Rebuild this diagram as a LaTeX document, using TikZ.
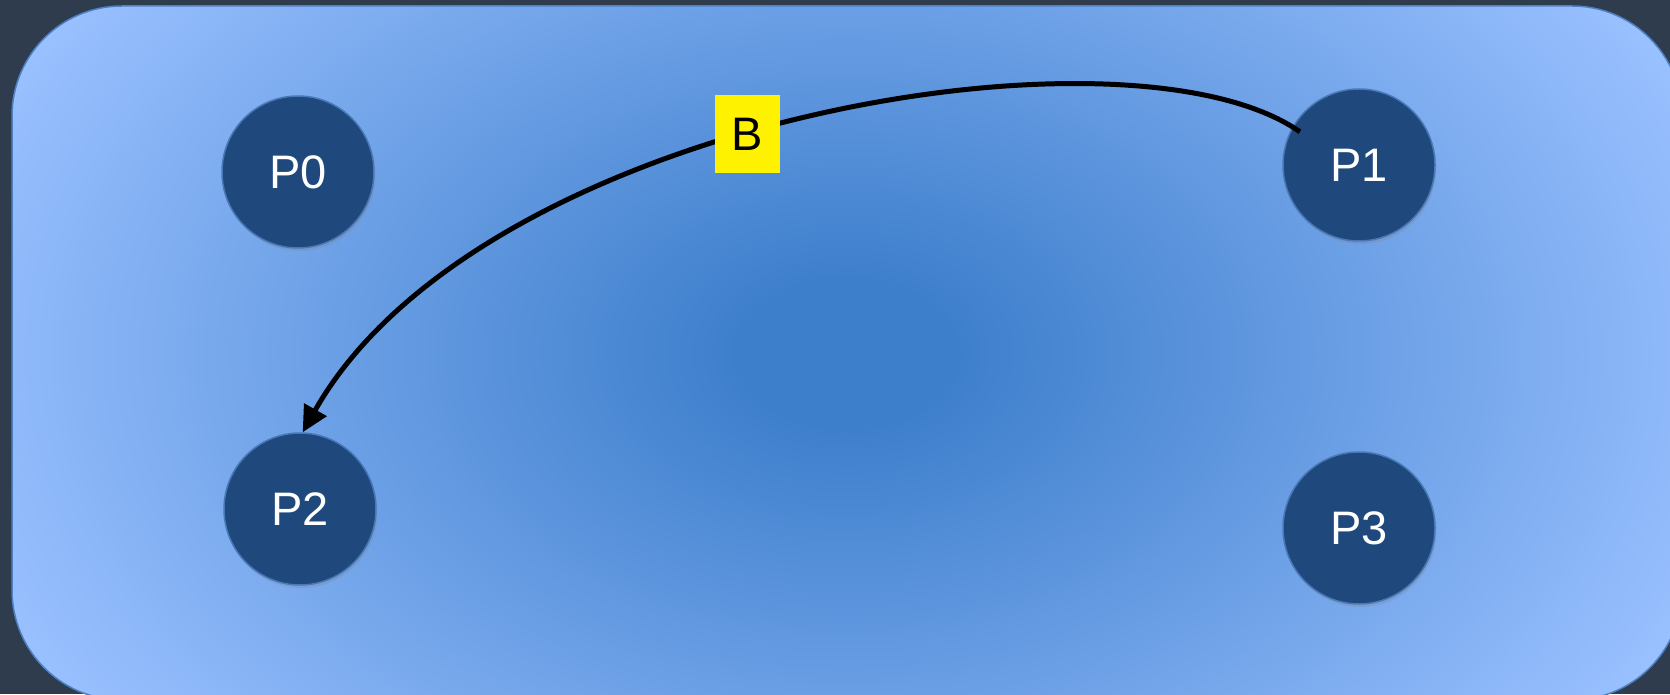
\documentclass[tikz,border=0pt]{standalone}
\usepackage{fontspec}
\setmainfont{Liberation Sans}
\usetikzlibrary{arrows.meta,shadows}
\definecolor{slatebg}{RGB}{46,60,78}
\definecolor{paneinner}{RGB}{62,127,204}
\definecolor{paneouter}{RGB}{153,192,255}
\definecolor{paneedge}{RGB}{78,128,196}
\definecolor{procfill}{RGB}{31,73,125}
\definecolor{procedge}{RGB}{72,120,184}
\pgfdeclareradialshading{paneglow}{\pgfpoint{0bp}{0bp}}{color(0bp)=(paneinner); color(3bp)=(paneinner); color(25bp)=(paneouter); color(50bp)=(paneouter)}

\begin{document}
\begin{tikzpicture}[
  x=1pt,y=1pt,
  proc/.style={circle,draw=procedge,line width=1.5pt,fill=procfill,text=white,minimum size=152pt,inner sep=0pt,
    font=\fontsize{47}{56}\selectfont,drop shadow={shadow xshift=1.5pt,shadow yshift=-3pt,opacity=0.25}},
  tag/.style={fill=yellow,text=black,inner sep=0pt,minimum width=65pt,minimum height=78pt,font=\fontsize{47}{56}\selectfont},
  arr/.style={-{Triangle[length=26pt,width=25pt]},line width=5pt}
]
\useasboundingbox (0,0) rectangle (1670,694);
\fill[slatebg] (0,0) rectangle (1670,694);
% pane
\begin{scope}
  \clip[rounded corners=110pt] (12,-6) rectangle (1682,688);
  \shade[shading=paneglow] (-79,-284) rectangle (1771,966);
\end{scope}
\draw[paneedge,line width=1.5pt,rounded corners=110pt] (12,-6) rectangle (1682,688);

\node[proc] (P0) at (298,522) {P0};
\node[proc] (P1) at (1359,529) {P1};
\node[proc] (P2) at (300,185) {P2};
\node[proc] (P3) at (1359,166) {P3};

\draw[arr,shorten <=-9pt] (P1.150) .. controls (1129,682) and (480,575) .. node[tag,pos=0.545] (lblB) {B} (P2.88);
\end{tikzpicture}
\end{document}
